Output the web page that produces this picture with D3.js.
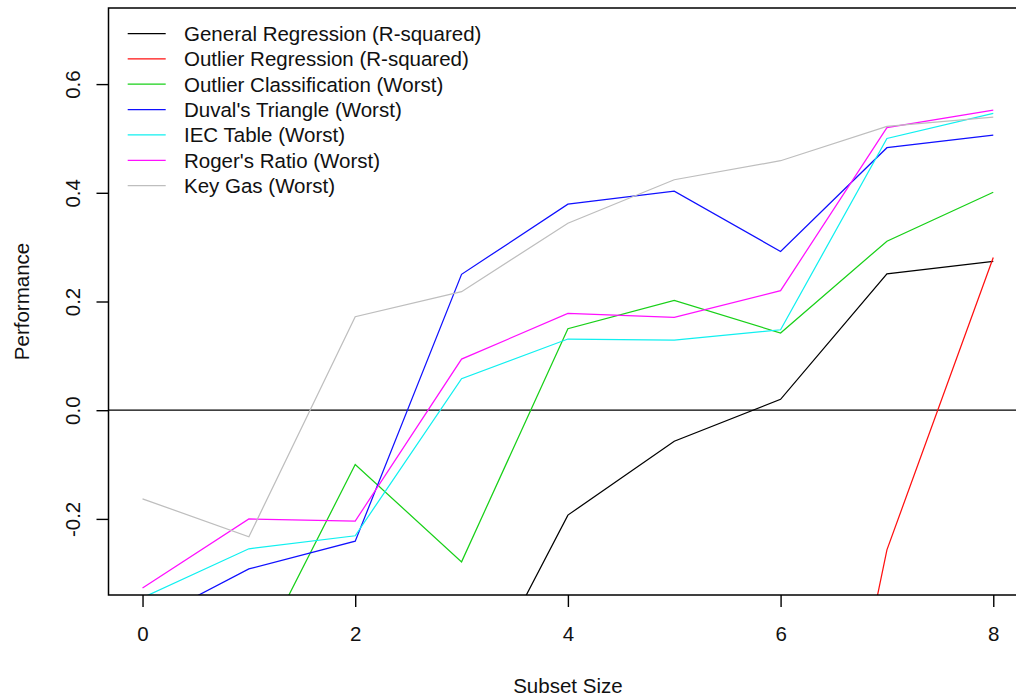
<!DOCTYPE html>
<html>
<head>
<meta charset="utf-8">
<script src="https://cdn.jsdelivr.net/npm/d3@7"></script>
<style>
  body { margin: 0; background: #fff; }
  text { font-family: "Liberation Sans", Arial, sans-serif; fill: #111; }
</style>
</head>
<body>
<div id="chart"></div>
<script>
// data (values below -0.34 are clipped in the plot)
var subsetSize = [0, 1, 2, 3, 4, 5, 6, 7, 8];
var generalRegression = [-0.80, -0.72, -0.66, -0.569, -0.193, -0.057, 0.020, 0.251, 0.274];
var outlierRegression = [-1.90, -1.80, -1.70, -1.55, -1.45, -1.30, -1.20, -0.257, 0.281];
var outlierClassification = [-0.55, -0.485, -0.100, -0.279, 0.150, 0.202, 0.142, 0.311, 0.401];
var duvalsTriangle = [-0.394, -0.292, -0.241, 0.250, 0.379, 0.403, 0.292, 0.483, 0.506];
var iecTable = [-0.345, -0.255, -0.231, 0.058, 0.131, 0.129, 0.148, 0.500, 0.546];
var rogersRatio = [-0.327, -0.200, -0.204, 0.094, 0.178, 0.171, 0.220, 0.520, 0.552];
var keyGas = [-0.163, -0.233, 0.172, 0.218, 0.344, 0.424, 0.459, 0.522, 0.539];

var seriesNames = [
  "General Regression (R-squared)",
  "Outlier Regression (R-squared)",
  "Outlier Classification (Worst)",
  "Duval's Triangle (Worst)",
  "IEC Table (Worst)",
  "Roger's Ratio (Worst)",
  "Key Gas (Worst)"
];
var seriesColors = ["black", "#ff1010", "#18d018", "#1010ff", "#10f0f0", "#ff10ff", "#bebebe"];
var seriesValues = [generalRegression, outlierRegression, outlierClassification,
  duvalsTriangle, iecTable, rogersRatio, keyGas];

var xTicks = [0, 2, 4, 6, 8];
var yTicks = [-0.2, 0.0, 0.2, 0.4, 0.6];

var svgWidth = 1016;
var svgHeight = 696;

// plot region (R style, 4% padding on both axes; right edge runs past the picture)
var margin = { top: 8, left: 108.5, bottom: 101 };
var width = 918.8;
var height = svgHeight - margin.top - margin.bottom;
var fontSize = 20.5;

var svg = d3.select("#chart")
  .append("svg")
  .attr("width", svgWidth)
  .attr("height", svgHeight);

var chartGroup = svg.append("g")
  .attr("transform", `translate(${margin.left}, ${margin.top})`);

var xScale = d3.scaleLinear().domain([-0.32, 8.32]).range([0, width]);
var yScale = d3.scaleLinear().domain([-0.34, 0.74]).range([height, 0]);

svg.append("defs").append("clipPath")
  .attr("id", "plotClip")
  .append("rect")
  .attr("width", width)
  .attr("height", height);

// zero line
chartGroup.append("line")
  .attr("x1", 0)
  .attr("x2", width)
  .attr("y1", yScale(0))
  .attr("y2", yScale(0))
  .attr("stroke", "black")
  .attr("stroke-width", 1.3);

var line = d3.line()
  .x((d, i) => xScale(subsetSize[i]))
  .y(d => yScale(d));

var linesGroup = chartGroup.append("g").attr("clip-path", "url(#plotClip)");
seriesValues.forEach(function(vals, k) {
  linesGroup.append("path")
    .datum(vals)
    .attr("d", line)
    .attr("fill", "none")
    .attr("stroke", seriesColors[k])
    .attr("stroke-width", 1.25);
});

// box
chartGroup.append("rect")
  .attr("width", width)
  .attr("height", height)
  .attr("fill", "none")
  .attr("stroke", "black")
  .attr("stroke-width", 1.5);

// x axis
var xAxis = chartGroup.append("g")
  .attr("transform", `translate(0, ${height})`)
  .call(d3.axisBottom(xScale).tickValues(xTicks).tickSize(12).tickPadding(0).tickFormat(d3.format("d")));
xAxis.select(".domain").remove();
xAxis.selectAll("line").attr("stroke", "black").attr("stroke-width", 1.4);
xAxis.selectAll("text")
  .attr("y", 38)
  .attr("dy", null)
  .attr("dominant-baseline", "central")
  .style("font-size", fontSize + "px")
  .style("font-family", "Liberation Sans, Arial, sans-serif")
  .attr("fill", "#111");

// y axis, plain hyphen for the minus like R
var yAxis = chartGroup.append("g")
  .call(d3.axisLeft(yScale).tickValues(yTicks).tickSize(12)
    .tickFormat(d => d3.format(".1f")(d).replace("\u2212", "-")));
yAxis.select(".domain").remove();
yAxis.selectAll("line").attr("stroke", "black").attr("stroke-width", 1.4);
yAxis.selectAll("text")
  .attr("x", null)
  .attr("dy", null)
  .attr("text-anchor", "middle")
  .attr("dominant-baseline", "central")
  .attr("transform", "translate(-36.5, 0) rotate(-90)")
  .style("font-size", fontSize + "px")
  .style("font-family", "Liberation Sans, Arial, sans-serif")
  .attr("fill", "#111");

// axis titles
svg.append("text")
  .attr("x", margin.left + xScale(4))
  .attr("y", 685)
  .attr("text-anchor", "middle")
  .attr("dominant-baseline", "central")
  .style("font-size", fontSize + "px")
  .text("Subset Size");

svg.append("text")
  .attr("transform", `translate(21.5, ${margin.top + height / 2}) rotate(-90)`)
  .attr("text-anchor", "middle")
  .attr("dominant-baseline", "central")
  .style("font-size", fontSize + "px")
  .text("Performance");

// legend, no box
var legend = svg.append("g");
seriesNames.forEach(function(name, k) {
  var y = 33.5 + k * 25.35;
  legend.append("line")
    .attr("x1", 127.7)
    .attr("x2", 165.7)
    .attr("y1", y)
    .attr("y2", y)
    .attr("stroke", seriesColors[k])
    .attr("stroke-width", 1.25);
  legend.append("text")
    .attr("x", 184)
    .attr("y", y)
    .attr("dominant-baseline", "central")
    .style("font-size", fontSize + "px")
    .text(name);
});
</script>
</body>
</html>
